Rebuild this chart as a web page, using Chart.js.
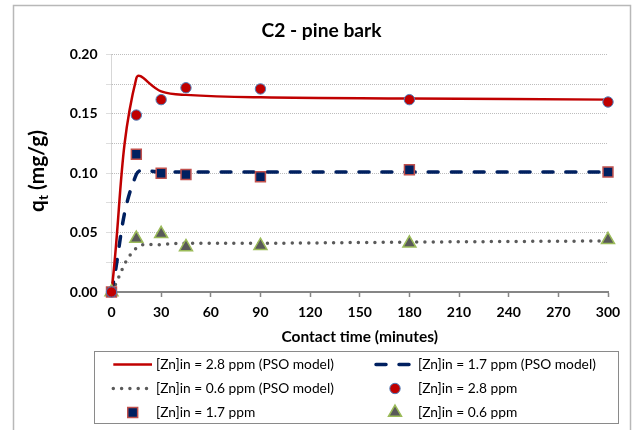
<!DOCTYPE html>
<html><head><meta charset="utf-8">
<script src="https://cdn.jsdelivr.net/npm/chart.js@4.4.0/dist/chart.umd.min.js"></script>
<style>html,body{margin:0;padding:0;background:#fff;overflow:hidden;} canvas{display:block;}</style>
</head><body>
<canvas id="c" width="632" height="430"></canvas>
<script>
// ---- data ----
const chartTitle = 'C2 - pine bark';
const xTitle = 'Contact time (minutes)';
const yTitleMain = 'q';
const yTitleSub = 't';
const yTitleRest = ' (mg/g)';
const seriesLabels = [
  '[Zn]in = 2.8 ppm (PSO model)',
  '[Zn]in = 1.7 ppm (PSO model)',
  '[Zn]in = 0.6 ppm (PSO model)',
  '[Zn]in = 2.8 ppm',
  '[Zn]in = 1.7 ppm',
  '[Zn]in = 0.6 ppm'
];
const times = [0, 15, 30, 45, 90, 180, 300];
const model28 = [0, 0.180, 0.169, 0.166, 0.164, 0.163, 0.162];
const model17 = [0, 0.099, 0.101, 0.101, 0.101, 0.101, 0.101];
const model06 = [0, 0.037, 0.040, 0.041, 0.041, 0.042, 0.043];
const obs28 = [0, 0.149, 0.162, 0.172, 0.171, 0.162, 0.160];
const obs17 = [0, 0.116, 0.100, 0.099, 0.097, 0.103, 0.101];
const obs06 = [0, 0.045, 0.049, 0.038, 0.039, 0.041, 0.044];
const xTicks = [0, 30, 60, 90, 120, 150, 180, 210, 240, 270, 300];
const yGridValues = [0, 0.025, 0.05, 0.075, 0.10, 0.125, 0.15, 0.175, 0.20];
const yTickLabels = ['0.00', '0.05', '0.10', '0.15', '0.20'];

const FAMILY = 'Lato';
const pts = ys => times.map((t, i) => ({x: t, y: ys[i]}));

function fitSize(ctx, text, weight, target) {
  ctx.font = weight + ' 20px ' + FAMILY;
  return 20 * target / ctx.measureText(text).width;
}

const decor = {
  id: 'decor',
  beforeDraw(chart) {
    const ctx = chart.ctx;
    ctx.save(); ctx.fillStyle = '#fff'; ctx.fillRect(0, 0, chart.width, chart.height); ctx.restore();
  },
  afterDraw(chart) {
    const ctx = chart.ctx;
    ctx.save();
    // outer frame
    ctx.strokeStyle = '#b8b8b8'; ctx.lineWidth = 1.5;
    ctx.strokeRect(13.5, 5.5, 617, 440);
    // title
    ctx.fillStyle = '#000'; ctx.textAlign = 'center'; ctx.textBaseline = 'middle';
    let s = fitSize(ctx, chartTitle, 'bold', 120);
    ctx.font = 'bold ' + s + 'px ' + FAMILY;
    ctx.fillText(chartTitle, 321.5, 31);
    // y title with subscript
    ctx.save();
    ctx.translate(37.5, 171);
    ctx.rotate(-Math.PI / 2);
    ctx.font = 'bold 20px ' + FAMILY;
    const wq = ctx.measureText(yTitleMain).width, wr = ctx.measureText(yTitleRest).width;
    ctx.font = 'bold 13px ' + FAMILY;
    const wt = ctx.measureText(yTitleSub).width;
    const k = 82 / (wq + wr + wt);
    const S = 20 * k;
    ctx.textAlign = 'left'; ctx.textBaseline = 'middle';
    let x0 = -(wq + wr + wt) * k / 2;
    ctx.font = 'bold ' + S + 'px ' + FAMILY;
    ctx.fillText(yTitleMain, x0, 0);
    x0 += wq * k;
    ctx.font = 'bold ' + (S * 0.65) + 'px ' + FAMILY;
    ctx.fillText(yTitleSub, x0, S * 0.3);
    x0 += wt * k;
    ctx.font = 'bold ' + S + 'px ' + FAMILY;
    ctx.fillText(yTitleRest, x0, 0);
    ctx.restore();
    // legend
    const box = {l: 94.5, t: 351.5, r: 618.5, b: 423.5};
    ctx.strokeStyle = '#8a8a8a'; ctx.lineWidth = 1;
    ctx.strokeRect(box.l, box.t, box.r - box.l, box.b - box.t);
    const rowY = [364.5, 388.5, 412.5];
    const sampleX = [[113.3, 152], [376, 410]];
    const markerX = [132.7, 395];
    const textX = [156, 418];
    const ls = fitSize(ctx, seriesLabels[1], 'normal', 178);
    chart.data.datasets.forEach((ds, i) => {
      const row = Math.floor(i / 2), col = i % 2, y = rowY[row];
      ctx.save();
      if (ds.showLine) {
        ctx.strokeStyle = ds.borderColor; ctx.lineWidth = ds.borderWidth;
        ctx.setLineDash(ds.borderDash || []);
        ctx.lineCap = ds.borderCapStyle || 'butt';
        let [a, b] = sampleX[col];
        if (ds.borderDash && ds.borderDash[0] === 0) b = a + 35;
        ctx.beginPath(); ctx.moveTo(a, y); ctx.lineTo(b, y); ctx.stroke();
      } else {
        ctx.fillStyle = ds.backgroundColor; ctx.strokeStyle = ds.borderColor;
        ctx.lineWidth = ds.borderWidth;
        Chart.helpers.drawPoint(ctx, {pointStyle: ds.pointStyle, radius: ds.pointRadius, borderWidth: ds.borderWidth, rotation: 0}, markerX[col], y);
      }
      ctx.restore();
      ctx.fillStyle = '#000'; ctx.textAlign = 'left'; ctx.textBaseline = 'middle';
      ctx.font = 'normal ' + ls + 'px ' + FAMILY;
      ctx.fillText(ds.label, textX[col], y);
    });
    ctx.restore();
  }
};

const tickFont = {family: FAMILY, size: 14, weight: 'bold'};

new Chart(document.getElementById('c'), {
  type: 'scatter',
  data: {
    datasets: [
      {label: seriesLabels[0], data: pts(model28), showLine: true, borderColor: '#C00000', backgroundColor: '#C00000', borderWidth: 2.5, pointRadius: 0, tension: 0.4, order: 2, clip: false},
      {label: seriesLabels[1], data: pts(model17), showLine: true, borderColor: '#002060', backgroundColor: '#002060', borderWidth: 3.5, borderDash: [10, 13], borderCapStyle: 'round', pointRadius: 0, tension: 0.4, order: 2, clip: false},
      {label: seriesLabels[2], data: pts(model06), showLine: true, borderColor: '#5a5a5a', backgroundColor: '#5a5a5a', borderWidth: 3.5, borderDash: [0, 8.3], borderCapStyle: 'round', pointRadius: 0, tension: 0.4, order: 2, clip: false},
      {label: seriesLabels[3], data: pts(obs28), showLine: false, pointStyle: 'circle', pointRadius: 5.2, backgroundColor: '#C00000', borderColor: '#4F81BD', borderWidth: 1, order: 0, clip: false},
      {label: seriesLabels[4], data: pts(obs17), showLine: false, pointStyle: 'rect', pointRadius: 7, backgroundColor: '#002060', borderColor: '#C0504D', borderWidth: 1.5, order: 0, clip: false},
      {label: seriesLabels[5], data: pts(obs06), showLine: false, pointStyle: 'triangle', pointRadius: 7.5, backgroundColor: '#595959', borderColor: '#9BBB59', borderWidth: 1.5, order: 0, clip: false}
    ]
  },
  options: {
    responsive: false, animation: false, events: [],
    layout: {padding: {left: 0, top: 54.5, right: 24, bottom: 83.4}},
    plugins: {legend: {display: false}, tooltip: {enabled: false}, title: {display: false}},
    scales: {
      x: {
        type: 'linear', min: 0, max: 300,
        afterBuildTicks: s => { s.ticks = xTicks.map(v => ({value: v})); },
        ticks: {font: tickFont, color: '#000', padding: 7, maxRotation: 0, autoSkip: false},
        grid: {drawOnChartArea: true, color: c => (c.tick && c.tick.value === 0) ? '#b0b0b0' : 'rgba(0,0,0,0)', lineWidth: 1, drawTicks: true, tickLength: 5, tickColor: '#868686', tickWidth: 1.5},
        border: {display: true, color: '#868686', width: 2, dash: [1, 1]},
        title: {display: true, text: xTitle, font: {family: FAMILY, size: 15.5, weight: 'bold'}, color: '#000', padding: {top: 0, bottom: 0}},
        afterFit: s => { s.height = 54.6; }
      },
      y: {
        type: 'linear', min: 0, max: 0.2,
        afterBuildTicks: s => { s.ticks = yGridValues.map(v => ({value: v})); },
        ticks: {
          font: tickFont, color: '#000', padding: 9, autoSkip: false,
          callback: v => { const k = v / 0.05; return Math.abs(k - Math.round(k)) < 1e-6 ? yTickLabels[Math.round(k)] : ''; }
        },
        grid: {color: '#bdbdbd', lineWidth: 1, drawTicks: true, tickLength: 5, tickColor: '#bdbdbd', tickBorderDash: [1, 1]},
        border: {display: false, dash: [1, 1]},
        afterFit: s => { s.width = 111.5; }
      }
    }
  },
  plugins: [decor]
});
</script>
</body></html>
